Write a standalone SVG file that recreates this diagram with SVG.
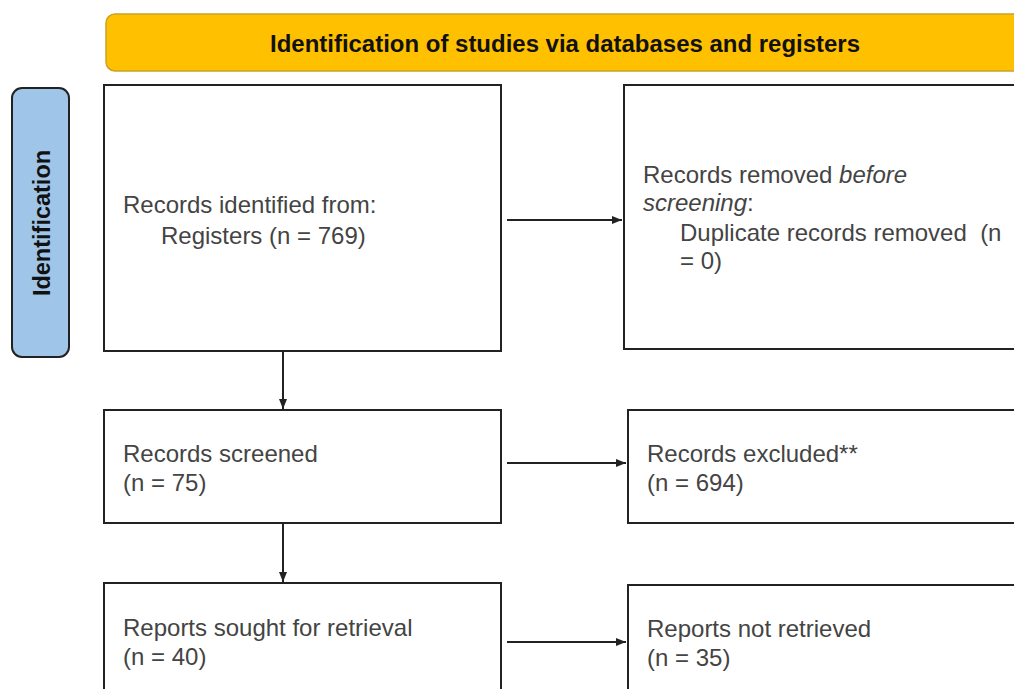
<svg xmlns="http://www.w3.org/2000/svg" width="1014" height="689" viewBox="0 0 1014 689">
<style>
.box{fill:#fff;stroke:#222;stroke-width:2}
.t{font-family:"Liberation Sans",Arial,sans-serif;font-size:24px;fill:#444}
.h{font-family:"Liberation Sans",Arial,sans-serif;font-size:23.5px;font-weight:bold;fill:#111}
.c{stroke:#222;stroke-width:2;fill:none;marker-end:url(#ah)}
</style>
<defs>
<marker id="ah" viewBox="0 0 10 10" refX="10" refY="5" markerWidth="5" markerHeight="5" orient="auto" markerUnits="strokeWidth">
<path d="M0,1 L10,5 L0,9 z" fill="#222"/>
</marker>
</defs>
<rect width="1014" height="689" fill="#fff"/>
<g id="banner">
<rect x="106" y="14" width="930" height="57" rx="9" fill="#ffc000" stroke="#c9a227" stroke-width="1.5"/>
<text class="h" x="565" y="52" text-anchor="middle" textLength="590" lengthAdjust="spacingAndGlyphs">Identification of studies via databases and registers</text>
</g>
<g id="phase-identification">
<rect x="12" y="88" width="57" height="269" rx="10" fill="#9fc5e8" stroke="#222" stroke-width="2"/>
<text class="h" transform="translate(50,223) rotate(-90)" text-anchor="middle">Identification</text>
</g>
<g id="records-identified">
<rect class="box" x="104" y="85" width="397" height="266"/>
<text class="t" x="123" y="213">Records identified from:</text>
<text class="t" x="161" y="244">Registers (n = 769)</text>
</g>
<g id="records-removed">
<rect class="box" x="624" y="85" width="420" height="264"/>
<text class="t" x="643" y="183">Records removed <tspan font-style="italic">before</tspan></text>
<text class="t" x="643" y="211"><tspan font-style="italic">screening</tspan>:</text>
<text class="t" x="680" y="241">Duplicate records removed&#160; (n</text>
<text class="t" x="680" y="269">= 0)</text>
</g>
<g id="records-screened">
<rect class="box" x="104" y="410" width="397" height="113"/>
<text class="t" x="123" y="462">Records screened</text>
<text class="t" x="123" y="491">(n = 75)</text>
</g>
<g id="records-excluded">
<rect class="box" x="628" y="410" width="420" height="113"/>
<text class="t" x="647" y="462">Records excluded**</text>
<text class="t" x="647" y="491">(n = 694)</text>
</g>
<g id="reports-sought">
<rect class="box" x="104" y="583" width="397" height="130"/>
<text class="t" x="123" y="636">Reports sought for retrieval</text>
<text class="t" x="123" y="665">(n = 40)</text>
</g>
<g id="reports-not-retrieved">
<rect class="box" x="628" y="585" width="420" height="130"/>
<text class="t" x="647" y="637">Reports not retrieved</text>
<text class="t" x="647" y="666">(n = 35)</text>
</g>
<g id="connectors">
<line class="c" x1="507" y1="220" x2="622" y2="220"/>
<line class="c" x1="283" y1="351" x2="283" y2="409"/>
<line class="c" x1="507" y1="463" x2="626" y2="463"/>
<line class="c" x1="283" y1="523" x2="283" y2="582"/>
<line class="c" x1="507" y1="642" x2="626" y2="642"/>
</g>
</svg>
